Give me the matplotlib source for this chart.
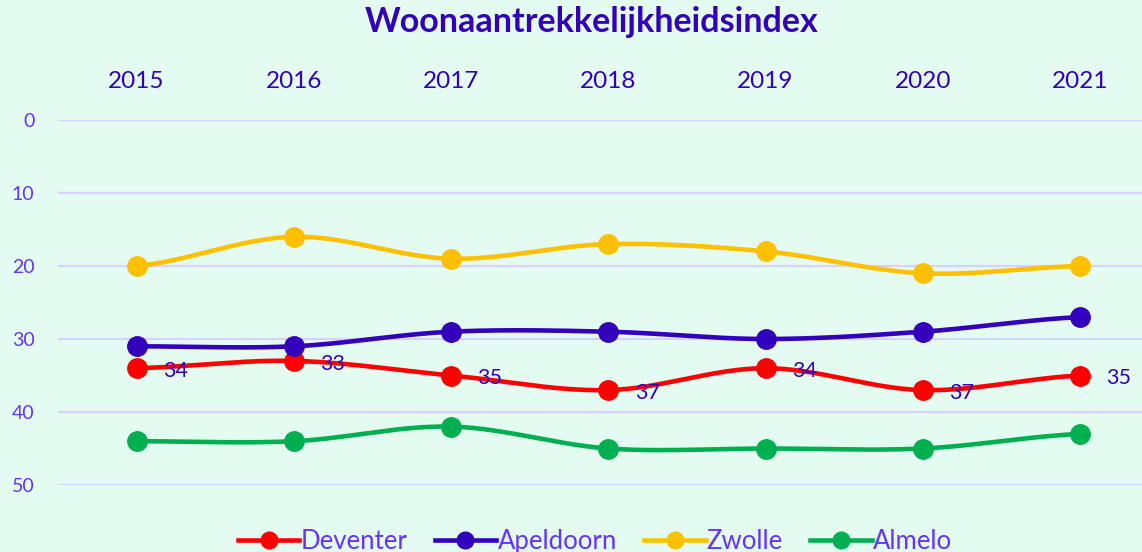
import matplotlib
matplotlib.use("Agg")
import matplotlib.pyplot as plt
import numpy as np

years = [2015, 2016, 2017, 2018, 2019, 2020, 2021]
deventer = [34, 33, 35, 37, 34, 37, 35]
apeldoorn = [31, 31, 29, 29, 30, 29, 27]
zwolle = [20, 16, 19, 17, 18, 21, 20]
almelo = [44, 44, 42, 45, 45, 45, 43]

series = [("Deventer", deventer, "#ff0000"),
          ("Apeldoorn", apeldoorn, "#3300bb"),
          ("Zwolle", zwolle, "#ffc000"),
          ("Almelo", almelo, "#00b050")]

dark = "#3300bb"
light = "#6633ff"
bg = "#e4fbf2"


def smooth(x, y, n=30):
    # catmull-rom curve through the points (like excel's smoothed line)
    x = np.asarray(x, float)
    y = np.asarray(y, float)
    px = np.concatenate([[2 * x[0] - x[1]], x, [2 * x[-1] - x[-2]]])
    py = np.concatenate([[y[0]], y, [y[-1]]])
    xs, ys = [], []
    t = np.linspace(0, 1, n)
    for i in range(1, len(px) - 2):
        for p, out in ((px, xs), (py, ys)):
            p0, p1, p2, p3 = p[i - 1], p[i], p[i + 1], p[i + 2]
            out.extend(0.5 * (2 * p1 + (-p0 + p2) * t
                              + (2 * p0 - 5 * p1 + 4 * p2 - p3) * t ** 2
                              + (-p0 + 3 * p1 - 3 * p2 + p3) * t ** 3))
    return xs, ys


plt.rcParams['font.family'] = ['Lato', 'DejaVu Sans']

fig = plt.figure(figsize=(11.42, 5.52), dpi=100, facecolor=bg)
ax = fig.add_axes([58 / 1142, 1 - 485 / 552, 1100.6 / 1142, 365 / 552])
ax.set_facecolor("none")

for name, vals, col in series:
    sx, sy = smooth(years, vals)
    ax.plot(sx, sy, color=col, lw=3.3, solid_capstyle="round", zorder=3)
    ax.plot(years, vals, "o", color=col, ms=14, zorder=4)

for x, v in zip(years, deventer):
    ax.annotate(str(v), (x, v), xytext=(28, -2), textcoords="offset points",
                color=dark, fontsize=15.5, ha="center", va="center", zorder=5)

ax.set_xlim(2014.5, 2021.5)
ax.set_ylim(50, 0)
ax.set_yticks([0, 10, 20, 30, 40, 50])
ax.set_xticks(years)
ax.xaxis.tick_top()
ax.tick_params(axis="x", length=0, pad=20, labelsize=17.5, labelcolor=dark)
ax.tick_params(axis="y", length=0, pad=17, labelsize=14, labelcolor=light)
ax.grid(axis="y", color="#d8d0ff", lw=1.6, zorder=1)
for s in ax.spines.values():
    s.set_visible(False)

fig.suptitle("Woonaantrekkelijkheidsindex", x=0.518, y=0.99, fontsize=24.5,
             fontweight="bold", color=dark)

handles = [plt.Line2D([], [], color=c, lw=3.3, marker="o", ms=12) for _, _, c in series]
leg = fig.legend(handles, [n for n, _, _ in series], loc="lower center", ncol=4,
                 bbox_to_anchor=(0.521, -0.045), frameon=False, fontsize=18.5,
                 handlelength=2.4, handletextpad=0.05, columnspacing=1.05)
for t in leg.get_texts():
    t.set_color(light)

fig.savefig("out.png", dpi=100, facecolor=bg)
